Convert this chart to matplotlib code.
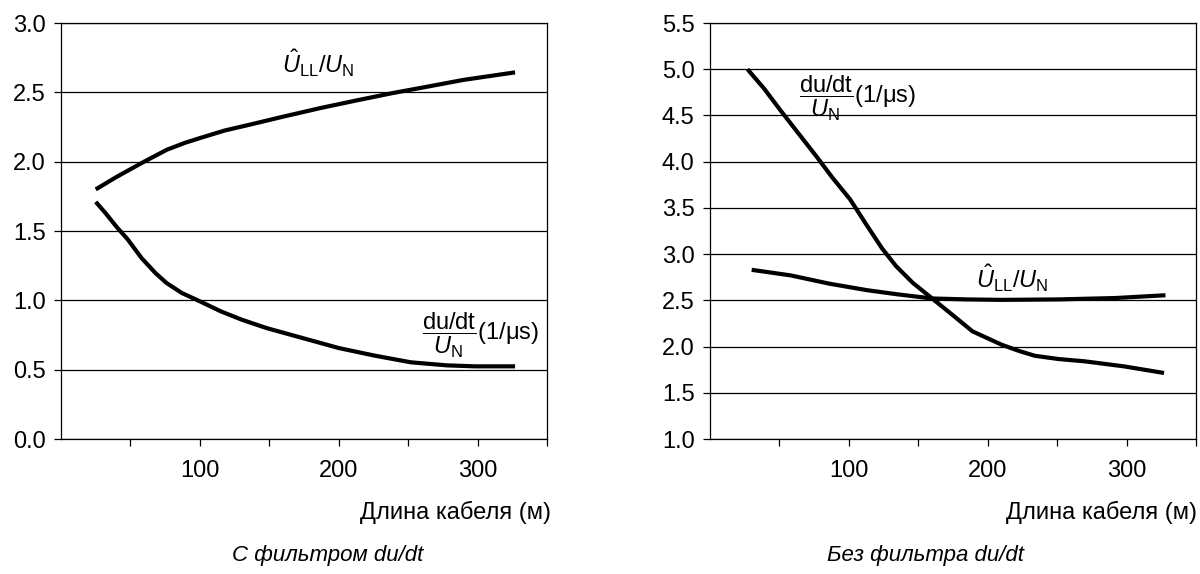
import numpy as np
import matplotlib
matplotlib.use('Agg')
import matplotlib.pyplot as plt

plt.rcParams['font.family'] = ['Liberation Sans', 'DejaVu Sans']
plt.rcParams['mathtext.fontset'] = 'custom'
plt.rcParams['mathtext.rm'] = 'Liberation Sans'
plt.rcParams['mathtext.it'] = 'Liberation Sans:italic'
plt.rcParams['mathtext.bf'] = 'Liberation Sans:bold'

# Данные: с фильтром du/dt
x_ull_f = [25, 40, 58, 76, 89, 100, 118, 136, 161, 187, 213, 239, 265, 290, 327]
y_ull_f = [1.80, 1.89, 1.99, 2.085, 2.135, 2.17, 2.225, 2.267, 2.327, 2.387, 2.442, 2.495, 2.543, 2.59, 2.644]
x_dudt_f = [25, 32, 40, 48, 58, 68, 76, 87, 100, 115, 130, 148, 174, 200, 226, 252, 278, 298, 327]
y_dudt_f = [1.71, 1.63, 1.53, 1.44, 1.305, 1.197, 1.125, 1.053, 0.993, 0.921, 0.861, 0.80,
            0.728, 0.656, 0.601, 0.553, 0.531, 0.524, 0.524]

# Данные: без фильтра du/dt
x_ull_n = [30, 58, 86, 113, 135, 160, 185, 210, 251, 292, 328]
y_ull_n = [2.83, 2.77, 2.68, 2.61, 2.565, 2.52, 2.51, 2.505, 2.51, 2.525, 2.555]
x_dudt_n = [27, 39, 50, 64, 77, 88, 101, 113, 124, 134, 146, 160, 174, 189, 210, 223, 234,
            251, 270, 298, 327]
y_dudt_n = [5.0, 4.79, 4.57, 4.30, 4.05, 3.83, 3.59, 3.31, 3.06, 2.87, 2.69, 2.52, 2.35,
            2.165, 2.02, 1.95, 1.90, 1.865, 1.84, 1.786, 1.714]

xlabel = 'Длина кабеля (м)'
captions = ['С фильтром du/dt', 'Без фильтра du/dt']
lbl_ull = r'$\hat{U}_{\mathrm{LL}}/U_{\mathrm{N}}$'
lbl_dudt = r'$\dfrac{\mathrm{du/dt}}{U_{\mathrm{N}}}\mathrm{(1/μs)}$'

FS = 17
fig = plt.figure(figsize=(12, 5.74), dpi=100)
ax1 = fig.add_axes([61 / 1200, 135 / 574, 486 / 1200, 416 / 574])
ax2 = fig.add_axes([710 / 1200, 135 / 574, 486 / 1200, 416 / 574])


def style(ax, ylim, yticks):
    ax.set_xlim(0, 350)
    ax.set_ylim(*ylim)
    ax.set_yticks(yticks)
    ax.set_yticklabels([f'{v:.1f}' for v in yticks], fontsize=FS)
    ax.set_xticks([50, 100, 150, 200, 250, 300, 350])
    ax.set_xticklabels(['', '100', '', '200', '', '300', ''], fontsize=FS)
    ax.tick_params(axis='both', direction='out', length=5, width=0.9, color='black')
    ax.tick_params(axis='y', pad=6)
    ax.tick_params(axis='x', pad=10)
    ax.yaxis.grid(True, color='black', lw=0.9)
    ax.set_axisbelow(True)
    for s in ax.spines.values():
        s.set_linewidth(0.9)
        s.set_color('black')


style(ax1, (0, 3.0), np.arange(0, 3.01, 0.5))
style(ax2, (1.0, 5.5), np.arange(1.0, 5.51, 0.5))

kw = dict(color='black', lw=3, solid_capstyle='butt', solid_joinstyle='round', zorder=3)
ax1.plot(x_ull_f, y_ull_f, **kw)
ax1.plot(x_dudt_f, y_dudt_f, **kw)
ax2.plot(x_ull_n, y_ull_n, **kw)
ax2.plot(x_dudt_n, y_dudt_n, **kw)

ax1.text(185, 2.71, lbl_ull, fontsize=FS, ha='center', va='center')
ax1.text(302, 0.745, lbl_dudt, fontsize=FS, ha='center', va='center')
ax2.text(218, 2.74, lbl_ull, fontsize=FS, ha='center', va='center')
ax2.text(106, 4.69, lbl_dudt, fontsize=FS, ha='center', va='center')

# подписи осей и заголовки снизу
fig.text(551 / 1200, 1 - 512 / 574, xlabel, fontsize=FS, ha='right', va='center')
fig.text(1197 / 1200, 1 - 512 / 574, xlabel, fontsize=FS, ha='right', va='center')
fig.text(232 / 1200, 1 - 555 / 574, captions[0], fontsize=16, style='italic', ha='left', va='center')
fig.text(827 / 1200, 1 - 555 / 574, captions[1], fontsize=16, style='italic', ha='left', va='center')

fig.savefig('out.png', dpi=100)
